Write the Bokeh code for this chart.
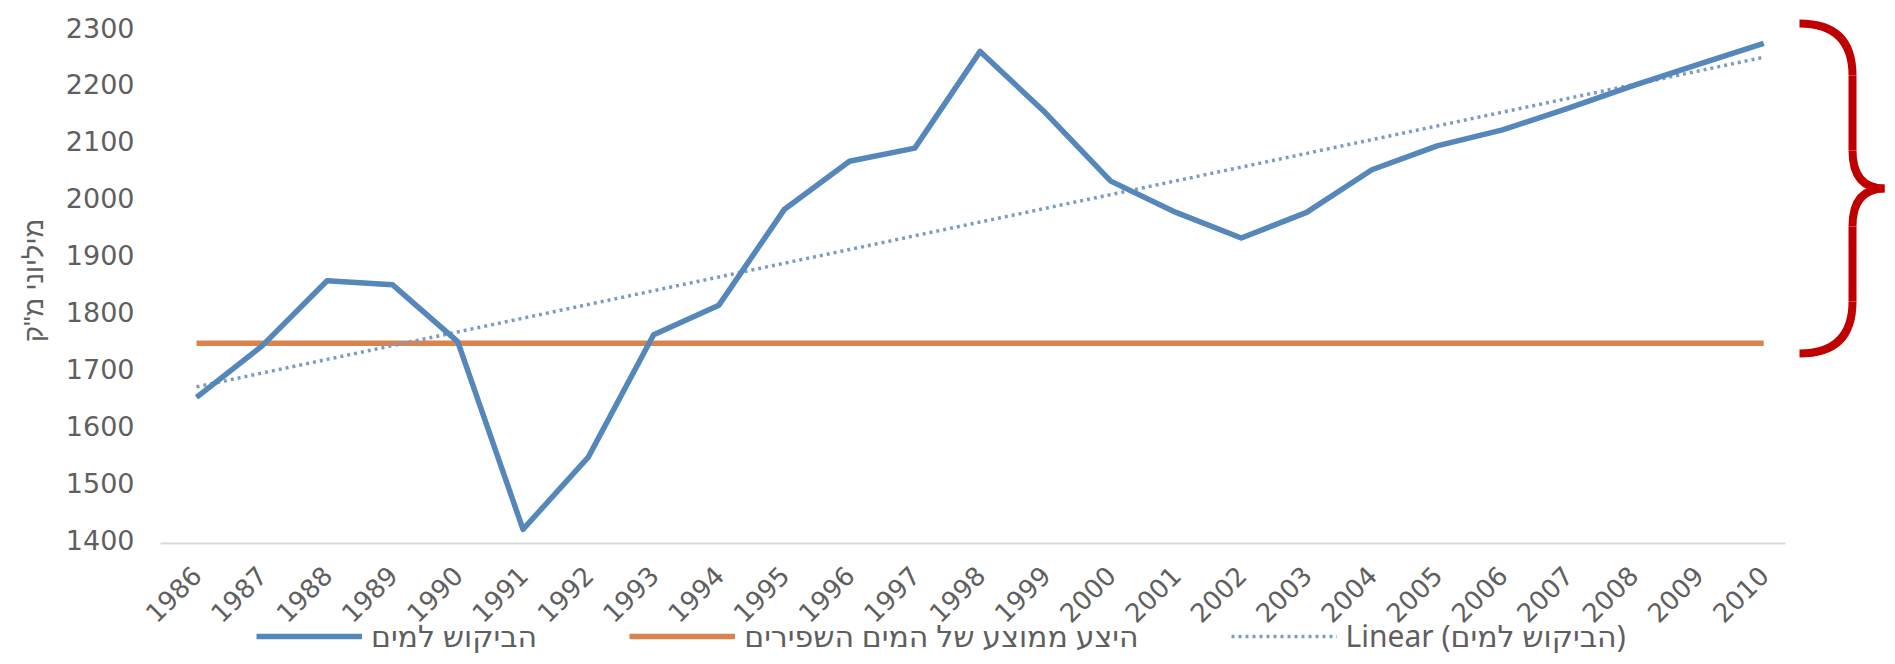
import numpy as np
from math import pi
from bokeh.plotting import figure
from bokeh.models import Range1d, FixedTicker, Legend, LegendItem
from bokeh.embed import file_html
from bokeh.resources import INLINE

# ---------------- data ----------------
years = list(range(1986, 2011))
demand = [1650, 1740, 1855, 1848, 1748, 1418, 1545, 1760, 1812, 1980, 2065, 2088,
          2258, 2150, 2030, 1975, 1930, 1975, 2050, 2092, 2120, 2158, 2198, 2235, 2272]
avg_supply = 1745
supply = [avg_supply] * len(years)
y_ticks = [1400, 1500, 1600, 1700, 1800, 1900, 2000, 2100, 2200, 2300]
name_demand = "הביקוש למים"
name_supply = "היצע ממוצע של המים השפירים"
name_trend = "Linear (הביקוש למים)"
y_title = 'מיליוני מ"ק'

# least-squares trend of the demand series (Excel "Linear" trendline)
slope, intercept = np.polyfit(years, demand, 1)
trend = [slope * yr + intercept for yr in years]

# ---------------- geometry (figure pixel coords) ----------------
W, H = 1887, 656
FRAME_L, FRAME_T = 140, 12
AXIS_PX = 543             # pixel row of the category axis
X_FIRST_PX = 196          # pixel of first year
PX_PER_YEAR = 65.3
Y_TOP_TICK_PX = 27        # pixel of 2300
PX_PER_UNIT = 0.569


def px2x(px):
    return years[0] + (px - X_FIRST_PX) / PX_PER_YEAR


def px2y(py):
    return y_ticks[-1] - (py - Y_TOP_TICK_PX) / PX_PER_UNIT


x_range = Range1d(px2x(FRAME_L), px2x(W))
y_range = Range1d(px2y(H), px2y(FRAME_T))

p = figure(width=W, height=H, x_range=x_range, y_range=y_range,
           output_backend="svg", toolbar_location=None,
           min_border_left=FRAME_L, min_border_right=0,
           min_border_top=FRAME_T, min_border_bottom=0)
p.outline_line_color = None
p.grid.visible = False
p.background_fill_color = "white"
p.border_fill_color = "white"

TICK_FONT = "DejaVu Sans"
TITLE_FONT = "Liberation Sans"
LEGEND_FONT = "Noto Sans, DejaVu Sans"
GREY = "#5f5f5f"

# x axis (drawn at the 1400 baseline, inside the frame)
p.xaxis.fixed_location = px2y(AXIS_PX)
p.xaxis.ticker = FixedTicker(ticks=years)
p.xaxis.major_label_orientation = pi / 4
p.xaxis.axis_line_color = None
p.xaxis.major_tick_line_color = None
p.xaxis.major_tick_out = 0
p.xaxis.major_tick_in = 0
p.xaxis.minor_tick_line_color = None
p.xaxis.major_label_text_font = TICK_FONT
p.xaxis.major_label_text_font_size = "26px"
p.xaxis.major_label_text_color = GREY
p.xaxis.major_label_standoff = 27

# y axis
p.yaxis.ticker = FixedTicker(ticks=y_ticks)
p.yaxis.axis_line_color = None
p.yaxis.major_tick_line_color = None
p.yaxis.major_tick_out = 0
p.yaxis.major_tick_in = 0
p.yaxis.minor_tick_line_color = None
p.yaxis.major_label_text_font = TICK_FONT
p.yaxis.major_label_text_font_size = "27px"
p.yaxis.major_label_text_color = GREY
p.yaxis.major_label_standoff = 6
# leading em-spaces lift the visible title to the middle of the 1400-2300 span
p.yaxis.axis_label = "\u2003" * 4 + y_title
p.yaxis.axis_label_text_font = TITLE_FONT
p.yaxis.axis_label_text_font_size = "27px"
p.yaxis.axis_label_text_font_style = "normal"
p.yaxis.axis_label_text_color = GREY
p.yaxis.axis_label_standoff = 14

# category axis baseline
p.segment(x0=[px2x(160)], y0=[px2y(AXIS_PX)], x1=[px2x(1785)], y1=[px2y(AXIS_PX)],
          line_color="#d9d9d9", line_width=2)

# series
r_supply = p.line(years, supply, line_color="#d9834f", line_width=5.5)
r_trend = p.line(years, trend, line_color="#7b9dc4", line_width=3.5, line_dash="3 4")
r_demand = p.line(years, demand, line_color="#5587bb", line_width=5.5,
                  line_join="round")

# red curly brace on the right
BR = "#c00000"
bx_end, bx_mid, bx_tip = px2x(1799), px2x(1852), px2x(1884)
by_top, by_bot = px2y(23), px2y(353)
by_mid = (by_top + by_bot) / 2
arc = 52 / PX_PER_UNIT
arc2 = 38 / PX_PER_UNIT
p.quadratic(x0=[bx_end, bx_mid, bx_tip, bx_mid],
            y0=[by_top, by_mid + arc2, by_mid, by_bot + arc],
            x1=[bx_mid, bx_tip, bx_mid, bx_end],
            y1=[by_top - arc, by_mid, by_mid - arc2, by_bot],
            cx=[bx_mid, bx_mid, bx_mid, bx_mid],
            cy=[by_top, by_mid, by_mid, by_bot],
            line_color=BR, line_width=8)
p.segment(x0=[bx_mid, bx_mid], y0=[by_top - arc, by_mid - arc2],
          x1=[bx_mid, bx_mid], y1=[by_mid + arc2, by_bot + arc],
          line_color=BR, line_width=8)

legend = Legend(items=[LegendItem(label=name_demand, renderers=[r_demand]),
                       LegendItem(label=name_supply, renderers=[r_supply]),
                       LegendItem(label=name_trend, renderers=[r_trend])],
                orientation="horizontal", location=(116, 0),
                glyph_width=106, glyph_height=24, label_height=24,
                label_standoff=9, spacing=92, padding=0, margin=0,
                border_line_color=None, background_fill_alpha=0,
                label_text_font=LEGEND_FONT, label_text_font_size="30px",
                label_text_color=GREY)
p.add_layout(legend, "center")

open("out.html", "w").write(file_html(p, INLINE))
